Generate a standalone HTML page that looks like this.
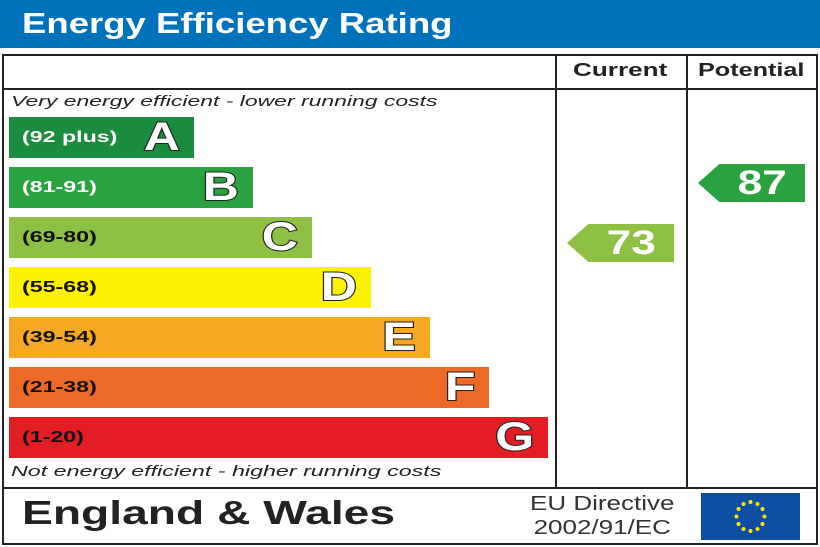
<!DOCTYPE html>
<html><head><style>
body{margin:0;width:820px;height:547px;background:#fff;position:relative;overflow:hidden;font-family:"Liberation Sans",Arial,sans-serif}
.a{position:absolute}
.s{display:inline-block;transform-origin:0 50%;white-space:nowrap}
.hdr{left:0;top:0;width:820px;height:48px;background:#0071bb;color:#fff;font-weight:bold;font-size:29px;line-height:48px;padding-left:22px;box-sizing:border-box}
.box{left:2px;top:54px;width:816px;height:491px;border:2px solid #222;box-sizing:border-box}
.hl{background:#222;height:2px}
.vl{background:#222;width:2px}
.bar{left:9px;height:41px;color:#111;font-weight:bold;font-size:16px;line-height:41px;padding-left:13px;box-sizing:border-box}
.let{position:absolute;right:14px;top:0;font-size:40px;font-weight:bold;color:#fff;-webkit-text-stroke:2px #222;paint-order:stroke fill;line-height:41px;transform:scaleX(1.25);transform-origin:100% 50%}
.it{font-style:italic;font-size:15px;color:#222}
.arr{height:38px;color:#fff;font-weight:bold;font-size:34px;line-height:38px;text-align:right;padding-right:18px;box-sizing:border-box;clip-path:polygon(0 50%,20% 0,100% 0,100% 100%,20% 100%)}
.arr .s{transform-origin:100% 50%;transform:scaleX(1.3)}
</style></head><body>
<div class="a hdr"><span class="s" style="transform:scaleX(1.26)">Energy Efficiency Rating</span></div>
<div class="a box"></div>
<div class="a hl" style="left:2px;top:88px;width:816px"></div>
<div class="a hl" style="left:2px;top:487px;width:816px"></div>
<div class="a vl" style="left:555px;top:54px;height:434px"></div>
<div class="a vl" style="left:686px;top:54px;height:434px"></div>
<div class="a" style="left:573px;top:60px;font-size:18px;font-weight:bold;color:#222"><span class="s" style="transform:scaleX(1.45)">Current</span></div>
<div class="a" style="left:698px;top:60px;font-size:18px;font-weight:bold;color:#222"><span class="s" style="transform:scaleX(1.4)">Potential</span></div>
<div class="a it" style="left:11px;top:93px"><span class="s" style="transform:scaleX(1.53)">Very energy efficient - lower running costs</span></div>
<div class="a it" style="left:11px;top:463px"><span class="s" style="transform:scaleX(1.55)">Not energy efficient - higher running costs</span></div>
<div class="a bar" style="top:117px;width:185px;background:#1a8c3e;color:#fff"><span class="s" style="transform:scaleX(1.45)">(92 plus)</span><span class="let">A</span></div>
<div class="a bar" style="top:167px;width:244px;background:#2aa23f;color:#fff"><span class="s" style="transform:scaleX(1.45)">(81-91)</span><span class="let">B</span></div>
<div class="a bar" style="top:217px;width:303px;background:#8dc043"><span class="s" style="transform:scaleX(1.45)">(69-80)</span><span class="let">C</span></div>
<div class="a bar" style="top:267px;width:362px;background:#fff200"><span class="s" style="transform:scaleX(1.45)">(55-68)</span><span class="let">D</span></div>
<div class="a bar" style="top:317px;width:421px;background:#f6a823"><span class="s" style="transform:scaleX(1.45)">(39-54)</span><span class="let">E</span></div>
<div class="a bar" style="top:367px;width:480px;background:#ec6a25"><span class="s" style="transform:scaleX(1.45)">(21-38)</span><span class="let">F</span></div>
<div class="a bar" style="top:417px;width:539px;background:#e31d23"><span class="s" style="transform:scaleX(1.45)">(1-20)</span><span class="let">G</span></div>
<div class="a arr" style="left:567px;top:224px;width:107px;background:#8dc043"><span class="s">73</span></div>
<div class="a arr" style="left:698px;top:164px;width:107px;background:#2aa23f"><span class="s">87</span></div>
<div class="a" style="left:22px;top:494px;font-size:33px;font-weight:bold;color:#222"><span class="s" style="transform:scaleX(1.4)">England &amp; Wales</span></div>
<div class="a" style="left:530px;top:492px;font-size:20px;color:#333;line-height:24px;white-space:nowrap;text-align:center;transform:scaleX(1.3);transform-origin:0 0">EU Directive<br>2002/91/EC</div>
<svg class="a" style="left:701px;top:493px" width="99" height="47" viewBox="0 0 99 47">
<rect width="99" height="47" fill="#0c4ea2"/>
<g fill="#ffe400">
<circle cx="49.5" cy="9" r="2"/><circle cx="56.5" cy="11" r="2"/><circle cx="61.5" cy="16" r="2"/><circle cx="63.5" cy="23.5" r="2"/><circle cx="61.5" cy="31" r="2"/><circle cx="56.5" cy="36" r="2"/><circle cx="49.5" cy="38" r="2"/><circle cx="42.5" cy="36" r="2"/><circle cx="37.5" cy="31" r="2"/><circle cx="35.5" cy="23.5" r="2"/><circle cx="37.5" cy="16" r="2"/><circle cx="42.5" cy="11" r="2"/>
</g></svg>
</body></html>
